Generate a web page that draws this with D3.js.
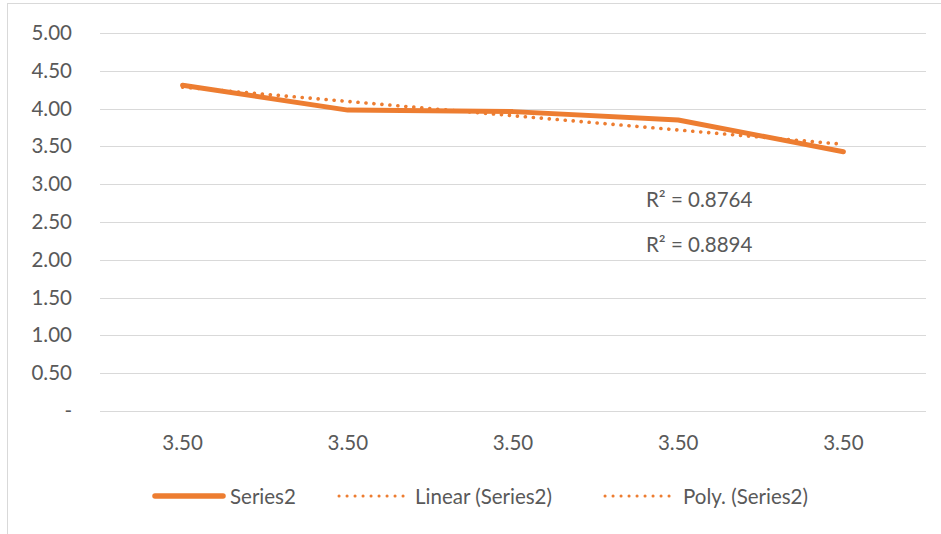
<!DOCTYPE html>
<html>
<head>
<meta charset="utf-8">
<script src="https://cdn.jsdelivr.net/npm/d3@7"></script>
<style>
  html, body { margin: 0; padding: 0; background: #fff; }
  svg text { font-family: Lato, "Open Sans", sans-serif; fill: #595959; }
</style>
</head>
<body>
<svg id="chart" width="941" height="534"></svg>
<script>
// Category labels along the x axis
const categories = ["3.50", "3.50", "3.50", "3.50", "3.50"];
// Series2 values
const series2 = [4.31, 3.98, 3.96, 3.85, 3.43];
// Y axis ticks
const yTicks = [0, 0.5, 1, 1.5, 2, 2.5, 3, 3.5, 4, 4.5, 5];
// Trendline R² labels
const r2Labels = ["R² = 0.8764", "R² = 0.8894"];
const legendLabels = ["Series2", "Linear (Series2)", "Poly. (Series2)"];

const color = "#ED7D31";
const fontSize = 20.5;
const svg = d3.select("#chart");

// chart frame
svg.append("rect")
  .attr("x", 7.5).attr("y", 3.5).attr("width", 940).attr("height", 540)
  .attr("fill", "none").attr("stroke", "#d9d9d9").attr("stroke-width", 1);

const plotLeft = 100, plotRight = 926, plotTop = 33, plotBottom = 411;

const x = d3.scaleBand().domain(d3.range(categories.length)).range([plotLeft, plotRight]);
const y = d3.scaleLinear().domain([0, 5]).range([plotBottom, plotTop]);

// gridlines
svg.append("g").selectAll("line").data(yTicks).join("line")
  .attr("x1", plotLeft).attr("x2", plotRight)
  .attr("y1", d => Math.round(y(d)) + 0.5).attr("y2", d => Math.round(y(d)) + 0.5)
  .attr("stroke", "#d9d9d9").attr("stroke-width", 1);

// y tick labels
svg.append("g").selectAll("text").data(yTicks).join("text")
  .attr("x", 72).attr("y", d => y(d) + 7)
  .attr("text-anchor", "end").attr("font-size", fontSize)
  .text(d => d === 0 ? "-" : d3.format(".2f")(d));

// x tick labels
svg.append("g").selectAll("text").data(categories).join("text")
  .attr("x", (d, i) => x(i) + x.bandwidth() / 2).attr("y", 450)
  .attr("text-anchor", "middle").attr("font-size", fontSize)
  .text(d => d);

// least-squares fits over category index 1..n
const xs = series2.map((d, i) => i + 1);
function linearFit(xv, yv) {
  const mx = d3.mean(xv), my = d3.mean(yv);
  let sxy = 0, sxx = 0;
  xv.forEach((v, i) => { sxy += (v - mx) * (yv[i] - my); sxx += (v - mx) * (v - mx); });
  const b = sxy / sxx;
  return t => my + b * (t - mx);
}
function quadFit(xv, yv) {
  // normal equations for y = a + b t + c t^2
  const S = k => d3.sum(xv, v => Math.pow(v, k));
  const T = k => d3.sum(xv, (v, i) => Math.pow(v, k) * yv[i]);
  const A = [[S(0), S(1), S(2)], [S(1), S(2), S(3)], [S(2), S(3), S(4)]];
  const B = [T(0), T(1), T(2)];
  for (let i = 0; i < 3; i++) {
    for (let j = i + 1; j < 3; j++) {
      const f = A[j][i] / A[i][i];
      for (let k = i; k < 3; k++) A[j][k] -= f * A[i][k];
      B[j] -= f * B[i];
    }
  }
  const c = [0, 0, 0];
  for (let i = 2; i >= 0; i--) {
    let s = B[i];
    for (let k = i + 1; k < 3; k++) s -= A[i][k] * c[k];
    c[i] = s / A[i][i];
  }
  return t => c[0] + c[1] * t + c[2] * t * t;
}
const lin = linearFit(xs, series2);
const quad = quadFit(xs, series2);
const px = t => x(t - 1) + x.bandwidth() / 2;

const line = d3.line().x(d => px(d[0])).y(d => y(d[1]));
const samples = d3.range(1, 5.0001, 0.05);

// trendlines (round dots)
svg.append("path")
  .attr("d", line([[1, lin(1)], [5, lin(5)]]))
  .attr("fill", "none").attr("stroke", color).attr("stroke-width", 3.6)
  .attr("stroke-linecap", "round").attr("stroke-dasharray", "0.1 7.9");
svg.append("path")
  .attr("d", line(samples.map(t => [t, quad(t)])))
  .attr("fill", "none").attr("stroke", color).attr("stroke-width", 3.6)
  .attr("stroke-linecap", "round").attr("stroke-dasharray", "0.1 7.9");

// main series
svg.append("path")
  .attr("d", line(series2.map((v, i) => [i + 1, v])))
  .attr("fill", "none").attr("stroke", color).attr("stroke-width", 5)
  .attr("stroke-linecap", "round").attr("stroke-linejoin", "round");

// R² labels
svg.append("g").selectAll("text").data(r2Labels).join("text")
  .attr("x", 646).attr("y", (d, i) => 207 + i * 45)
  .attr("font-size", fontSize)
  .text(d => d);

// legend
const lg = svg.append("g");
const legendY = 496;
lg.append("line").attr("x1", 155).attr("x2", 223).attr("y1", legendY).attr("y2", legendY)
  .attr("stroke", color).attr("stroke-width", 5.5).attr("stroke-linecap", "round");
lg.append("text").attr("x", 230).attr("y", legendY + 8).attr("font-size", fontSize).text(legendLabels[0]);
lg.append("line").attr("x1", 339).attr("x2", 404).attr("y1", legendY).attr("y2", legendY)
  .attr("stroke", color).attr("stroke-width", 3).attr("stroke-linecap", "round").attr("stroke-dasharray", "0.1 7.9");
lg.append("text").attr("x", 415).attr("y", legendY + 8).attr("font-size", fontSize).text(legendLabels[1]);
lg.append("line").attr("x1", 605).attr("x2", 670).attr("y1", legendY).attr("y2", legendY)
  .attr("stroke", color).attr("stroke-width", 3).attr("stroke-linecap", "round").attr("stroke-dasharray", "0.1 7.9");
lg.append("text").attr("x", 683).attr("y", legendY + 8).attr("font-size", fontSize).text(legendLabels[2]);
</script>
</body>
</html>
